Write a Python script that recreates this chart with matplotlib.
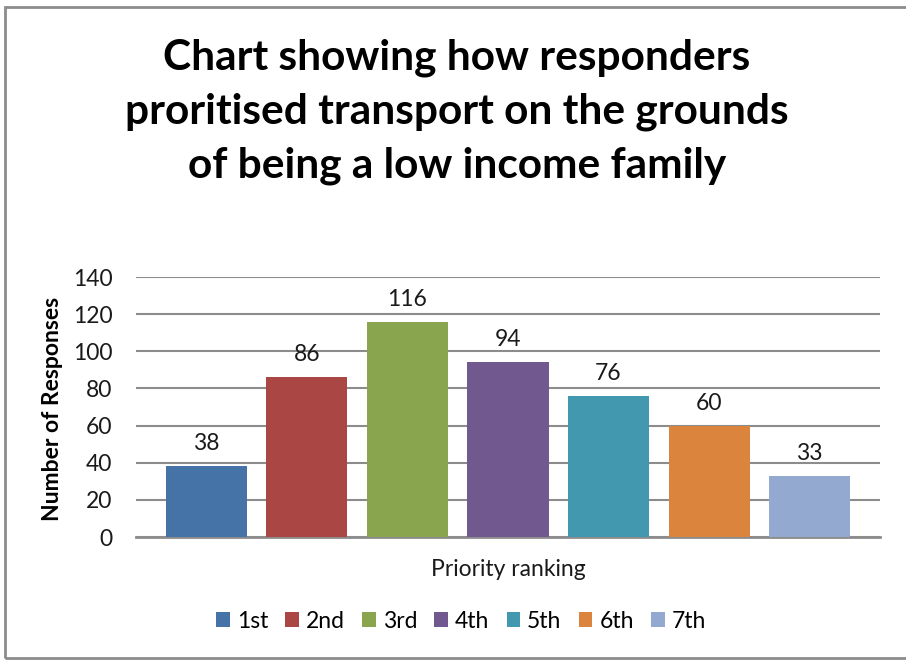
import matplotlib.pyplot as plt
from matplotlib.patches import Rectangle

plt.rcParams['font.family'] = ['Lato', 'DejaVu Sans']

rankings = ['1st', '2nd', '3rd', '4th', '5th', '6th', '7th']
responses = [38, 86, 116, 94, 76, 60, 33]
colours = ['#4572A7', '#AA4643', '#89A54E', '#71588F', '#4198AF', '#DB843D', '#93A9CF']
yticks = [0, 20, 40, 60, 80, 100, 120, 140]

W, H = 906, 660
fs = 16.5
fig = plt.figure(figsize=(W / 100, H / 100), dpi=100)

# chart frame (right edge runs off the page)
fig.patches.append(Rectangle((5 / W, 1 - 658 / H), 910 / W, (658 - 7) / H,
                             transform=fig.transFigure, fill=False,
                             edgecolor='#8c8c8c', linewidth=2))

ax = fig.add_axes([136 / W, 1 - 537 / H, (880 - 136) / W, (537 - 277) / H])

for i, (name, val, col) in enumerate(zip(rankings, responses, colours)):
    ax.bar(i, val, width=0.806, color=col, label=name, zorder=3)
    ax.text(i, val + 6.5, str(val), ha='center', va='bottom', fontsize=fs, color='#1a1a1a')

ax.set_xlim(-0.7, 6.7)
ax.set_ylim(0, 140)
ax.set_yticks(yticks)
ax.set_xticks([])
ax.tick_params(axis='y', length=0, labelsize=fs, pad=17, labelcolor='#1a1a1a')
ax.grid(axis='y', color='#8c8c8c', linewidth=1.5, zorder=0)
for side in ['left', 'right', 'top']:
    ax.spines[side].set_visible(False)
ax.spines['bottom'].set_color('#8c8c8c')
ax.spines['bottom'].set_linewidth(2)

ax.set_xlabel('Priority ranking', fontsize=fs, labelpad=16, color='#1a1a1a')
fig.text(53 / W, 1 - 409 / H, 'Number of Responses', rotation=90, ha='center', va='center',
         fontsize=16.5, fontweight='bold')

fig.text(457 / W, 1 - 112 / H,
         'Chart showing how responders\nproritised transport on the grounds\nof being a low income family',
         ha='center', va='center', fontsize=30.5, fontweight='bold', linespacing=1.5)

fig.legend(loc='center', bbox_to_anchor=(461 / W, 1 - 621 / H), ncol=7, frameon=False,
           fontsize=fs, handlelength=0.6, handleheight=0.6, handletextpad=0.3,
           columnspacing=0.75)

fig.savefig('out.png', dpi=100)
